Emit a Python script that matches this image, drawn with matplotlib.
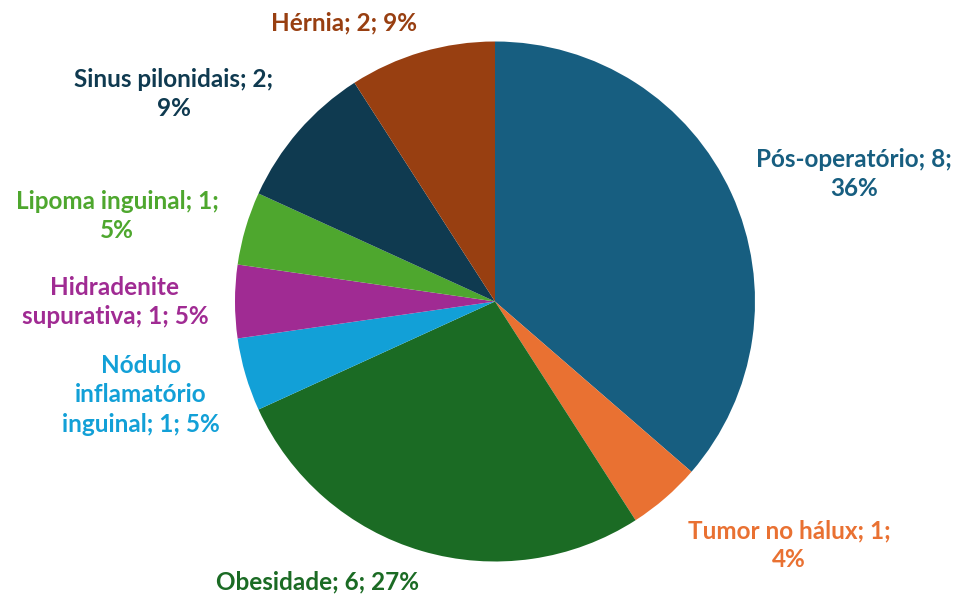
import numpy as np
import matplotlib
matplotlib.use("Agg")
import matplotlib.pyplot as plt

# dados
categorias = ["Pós-operatório", "Tumor no hálux", "Obesidade",
              "Nódulo inflamatório inguinal", "Hidradenite supurativa",
              "Lipoma inguinal", "Sinus pilonidais", "Hérnia"]
valores = [8, 1, 6, 1, 1, 1, 2, 2]
percentuais = ["36%", "4%", "27%", "5%", "5%", "5%", "9%", "9%"]
rotulos = ["Pós-operatório; 8;\n36%",
           "Tumor no hálux; 1;\n4%",
           "Obesidade; 6; 27%",
           "Nódulo\ninflamatório\ninguinal; 1; 5%",
           "Hidradenite\nsupurativa; 1; 5%",
           "Lipoma inguinal; 1;\n5%",
           "Sinus pilonidais; 2;\n9%",
           "Hérnia; 2; 9%"]
cores = ["#175E80", "#E97132", "#1B6B24", "#12A0D7",
         "#A02B93", "#4EA72E", "#0F3A50", "#983F11"]

# posicao dos rotulos em pixels (x, y a partir do topo)
pos_rotulos = [(854, 174), (789, 545), (318, 582), (141, 395),
               (115, 302), (117, 216), (174, 94), (344, 23)]

W, H = 959, 599
fig = plt.figure(figsize=(W / 100, H / 100), dpi=100)
fig.patch.set_facecolor("white")

cx, cy, r = 495, 301.5, 260
ax = fig.add_axes([(cx - r) / W, (H - cy - r) / H, 2 * r / W, 2 * r / H])
ax.pie(valores, colors=cores, startangle=90, counterclock=False,
       radius=1, wedgeprops=dict(linewidth=0))
ax.set_xlim(-1, 1)
ax.set_ylim(-1, 1)
ax.set_aspect("equal")
ax.axis("off")

for txt, (px, py), c in zip(rotulos, pos_rotulos, cores):
    fig.text(px / W, 1 - py / H, txt, color=c, ha="center", va="center",
             fontsize=17.5, fontweight="bold", family="Lato", linespacing=1.32)

fig.savefig("out.png", dpi=100)
